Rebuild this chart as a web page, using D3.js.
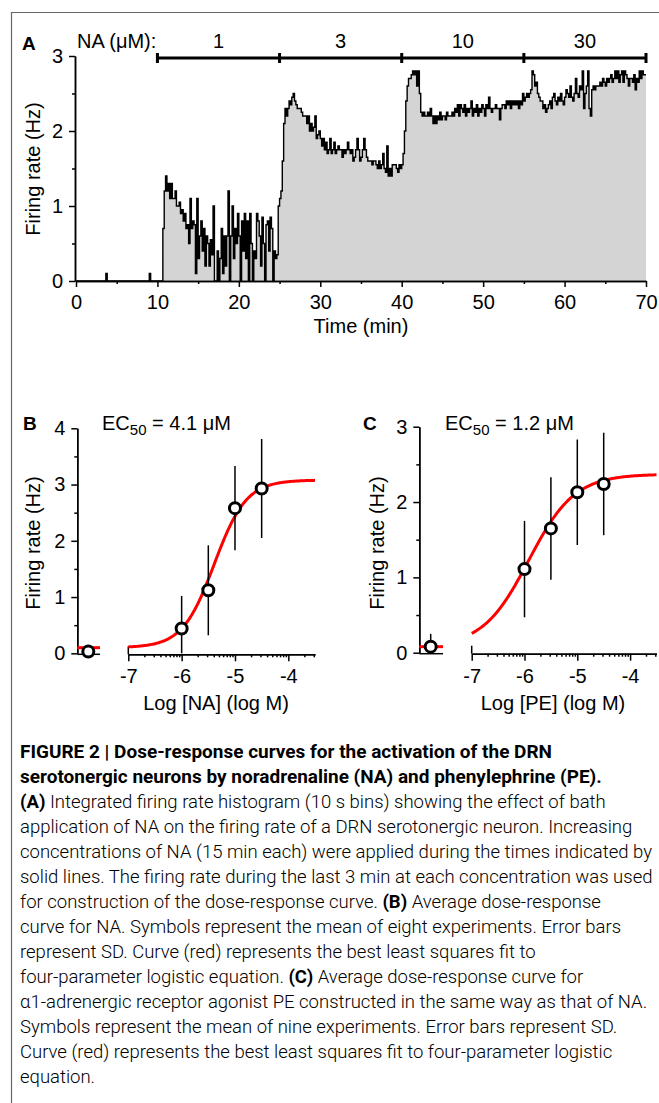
<!DOCTYPE html>
<html>
<head>
<meta charset="utf-8">
<script src="https://cdn.jsdelivr.net/npm/d3@7"></script>
<style>
  body { margin: 0; background: #fff; }
  svg text { font-family: Arial, "Liberation Sans", sans-serif; fill: #000; }
</style>
</head>
<body>
<svg id="fig" width="659" height="1103"></svg>
<script>
// ---- panel A: integrated firing rate, 10 s bins (one row = 1 min) ----
var binMin = 1 / 6;
var rateHz = [
  0,0,0,0,0,0,  0,0,0,0,0,0,  0,0,0,0,0,0,  0,0,0,0,0.1,0,
  0,0,0,0,0,0,  0,0,0,0,0,0,  0,0,0,0,0,0,  0,0,0,0,0,0,
  0,0,0,0,0,0,  0.1,0,0,0,0,0,
  0,0,0,0,0.7,1.2,
  1.4,1.2,1.3,1.1,1.3,1.1,
  1.1,1.2,1.0,1.0,1.05,0.9,
  0.95,0.8,0.9,0.7,0.75,0.5,
  1.1,0.7,0.8,0.75,0.1,1.1,
  0.3,0.6,0.8,0.4,0.7,0.2,
  0.6,0.5,0.2,0.55,0.35,1.0,
  0,0,0.4,0,0.3,0.7,
  0.1,0.6,0.2,0.6,1.2,0,
  0.6,1.0,0.3,0.7,0.5,0.9,
  0.6,0,0.8,0.4,0.9,0.3,
  0.8,0,0.9,0.5,0,0.4,
  0.3,0.9,0.8,0.6,0.2,0.85,
  0.5,0,0.75,0.8,0.4,0.85,
  0.7,0,0.4,0.3,0.35,1.0,
  1.1,1.2,1.6,2.1,2.3,2.2,
  2.3,2.4,2.35,2.45,2.5,2.4,
  2.35,2.3,2.3,2.3,2.25,2.2,
  2.2,2.2,2.1,2.2,2.0,2.1,
  2.0,2.05,2.2,1.9,1.95,2.0,
  1.9,1.8,1.9,1.75,1.85,1.7,
  1.75,1.9,1.7,1.75,1.85,1.7,
  1.75,1.8,1.75,1.75,1.65,1.75,
  1.7,1.75,1.85,1.75,1.7,1.75,
  1.6,1.65,1.75,1.9,1.75,1.6,
  1.65,1.75,1.9,1.75,1.65,1.6,
  1.6,1.6,1.55,1.6,1.6,1.55,
  1.5,1.6,1.5,1.55,1.7,1.5,
  1.45,1.8,1.4,1.5,1.4,1.55,
  1.55,1.55,1.5,1.45,1.55,1.5,
  1.55,1.7,2.0,2.4,2.6,2.7,
  2.7,2.75,2.8,2.75,2.8,2.6,
  2.8,2.5,2.25,2.2,2.25,2.2,
  2.2,2.25,2.2,2.3,2.2,2.1,
  2.2,2.1,2.2,2.15,2.25,2.15,
  2.2,2.2,2.15,2.25,2.2,2.2,
  2.2,2.25,2.2,2.3,2.25,2.35,
  2.2,2.35,2.3,2.25,2.35,2.2,
  2.3,2.25,2.3,2.4,2.2,2.3,
  2.25,2.35,2.2,2.3,2.25,2.35,
  2.3,2.2,2.35,2.3,2.45,2.3,
  2.25,2.3,2.3,2.35,2.3,2.3,
  2.15,2.3,2.35,2.35,2.3,2.4,
  2.35,2.4,2.3,2.4,2.35,2.4,
  2.35,2.4,2.3,2.4,2.35,2.5,
  2.4,2.45,2.5,2.45,2.5,2.55,
  2.8,2.75,2.6,2.65,2.5,2.45,
  2.4,2.4,2.3,2.35,2.25,2.3,
  2.35,2.4,2.3,2.45,2.5,2.4,
  2.35,2.45,2.4,2.5,2.4,2.35,
  2.45,2.55,2.5,2.45,2.6,2.45,
  2.4,2.5,2.7,2.5,2.45,2.6,
  2.55,2.8,2.3,2.5,2.6,2.8,
  2.3,2.2,2.55,2.6,2.55,2.6,
  2.6,2.6,2.65,2.6,2.7,2.65,
  2.6,2.7,2.65,2.7,2.75,2.65,
  2.7,2.8,2.7,2.8,2.65,2.75,
  2.8,2.65,2.8,2.75,2.7,2.6,
  2.7,2.7,2.65,2.75,2.55,2.7,
  2.65,2.8,2.7,2.8,2.75,2.75
];
var doseEdges = [10, 25, 40, 55, 70];
var doseLabels = ["1", "3", "10", "30"];
var timeTicks = [0, 10, 20, 30, 40, 50, 60, 70];

// ---- panels B and C: dose-response ----
var logConc = [-6, -5.5, -5, -4.5];
var naMean = [0.44, 1.12, 2.58, 2.93];
var naSD = [0.58, 0.80, 0.75, 0.88];
var naCtrl = [0.03, 0];
var peMean = [1.11, 1.65, 2.13, 2.24];
var peSD = [0.64, 0.68, 0.70, 0.68];
var peCtrl = [0.08, 0.17];
var naFit = [0.1, 3.08, -5.387, 1.45];   // bottom, top, logEC50, hill
var peFit = [0.08, 2.37, -5.921, 1.0];
var logTicks = [-7, -6, -5, -4];

var captionLines = [
  [["FIGURE 2 | Dose-response curves for the activation of the DRN", 1]],
  [["serotonergic neurons by noradrenaline (NA) and phenylephrine (PE).", 1]],
  [["(A)", 1], [" Integrated firing rate histogram (10 s bins) showing the effect of bath", 0]],
  [["application of NA on the firing rate of a DRN serotonergic neuron. Increasing", 0]],
  [["concentrations of NA (15 min each) were applied during the times indicated by", 0]],
  [["solid lines. The firing rate during the last 3 min at each concentration was used", 0]],
  [["for construction of the dose-response curve. ", 0], ["(B)", 1], [" Average dose-response", 0]],
  [["curve for NA. Symbols represent the mean of eight experiments. Error bars", 0]],
  [["represent SD. Curve (red) represents the best least squares fit to", 0]],
  [["four-parameter logistic equation. ", 0], ["(C)", 1], [" Average dose-response curve for", 0]],
  [["\u03b11-adrenergic receptor agonist PE constructed in the same way as that of NA.", 0]],
  [["Symbols represent the mean of nine experiments. Error bars represent SD.", 0]],
  [["Curve (red) represents the best least squares fit to four-parameter logistic", 0]],
  [["equation.", 0]]
];

var svg = d3.select("#fig");
var FONT = "20px";
var intFmt = d3.format("d");

// frame
svg.append("path")
  .attr("d", "M11.5,1103 V12.5 H659")
  .attr("fill", "none").attr("stroke", "#666").attr("stroke-width", 1.2);

function styleAxis(g) {
  g.attr("font-size", 20).attr("font-family", "Arial, Liberation Sans, sans-serif");
  g.selectAll("path, line").attr("stroke", "#000").attr("stroke-width", 1.5);
  g.selectAll("text").attr("fill", "#000");
}

// ================= Panel A =================
var xA = d3.scaleLinear().domain([0, 70]).range([76, 646]);
var yA = d3.scaleLinear().domain([0, 3]).range([281, 56]);

var bins = rateHz.map(function (v, i) { return { t: i * binMin, v: v }; });
bins.push({ t: 70, v: rateHz[rateHz.length - 1] });

svg.append("path").datum(bins)
  .attr("d", d3.area().curve(d3.curveStepAfter)
    .x(function (d) { return xA(d.t); })
    .y0(yA(0))
    .y1(function (d) { return yA(d.v); }))
  .attr("fill", "#d4d4d4");
svg.append("path").datum(bins)
  .attr("d", d3.line().curve(d3.curveStepAfter)
    .x(function (d) { return xA(d.t); })
    .y(function (d) { return yA(d.v); }))
  .attr("fill", "none").attr("stroke", "#000").attr("stroke-width", 1.4);

// axes
svg.append("g").attr("transform", "translate(0," + yA(0) + ")")
  .call(d3.axisBottom(xA).tickValues(d3.range(5, 70, 10)).tickSize(3).tickSizeOuter(0).tickFormat(""))
  .call(styleAxis);
svg.append("g").attr("transform", "translate(0," + yA(0) + ")")
  .call(d3.axisBottom(xA).tickValues(timeTicks).tickSize(6).tickPadding(8).tickSizeOuter(0).tickFormat(intFmt))
  .call(styleAxis);
svg.append("g").attr("transform", "translate(" + (xA(0) - 1) + ",0)")
  .call(d3.axisLeft(yA).tickValues([0.5, 1.5, 2.5]).tickSize(3).tickSizeOuter(0).tickFormat(""))
  .call(styleAxis);
svg.append("g").attr("transform", "translate(" + (xA(0) - 1) + ",0)")
  .call(d3.axisLeft(yA).tickValues([0, 1, 2, 3]).tickSize(6).tickPadding(6).tickSizeOuter(0).tickFormat(intFmt))
  .call(styleAxis);

svg.append("text").attr("x", 361).attr("y", 333).attr("text-anchor", "middle")
  .style("font-size", FONT).text("Time (min)");
svg.append("text").attr("transform", "translate(40,169) rotate(-90)").attr("text-anchor", "middle")
  .style("font-size", FONT).text("Firing rate (Hz)");
svg.append("text").attr("x", 22).attr("y", 50).style("font-size", "19px").style("font-weight", "bold").text("A");
svg.append("text").attr("x", 77).attr("y", 48).style("font-size", FONT).text("NA (\u03bcM):");

// dose bar
svg.append("line").attr("x1", xA(doseEdges[0])).attr("x2", xA(doseEdges[doseEdges.length - 1]))
  .attr("y1", 58).attr("y2", 58).attr("stroke", "#000").attr("stroke-width", 3);
svg.selectAll("rect.cap").data(doseEdges).enter().append("rect")
  .attr("x", function (d) { return xA(d) - 1.5; }).attr("y", 53).attr("width", 3).attr("height", 10)
  .attr("fill", "#000");
svg.selectAll("text.dose").data(doseLabels).enter().append("text")
  .attr("x", function (d, i) { return xA((doseEdges[i] + doseEdges[i + 1]) / 2); })
  .attr("y", 48).attr("text-anchor", "middle").style("font-size", FONT)
  .text(function (d) { return d; });

// ================= Panels B & C =================
function logistic(p) {
  return function (x) { return p[0] + (p[1] - p[0]) / (1 + Math.pow(10, (p[2] - x) * p[3])); };
}

function dosePanel(cfg) {
  var x = d3.scaleLinear().domain([-7, -3.5]).range(cfg.xr);
  var y = d3.scaleLinear().domain([0, cfg.ymax]).range(cfg.yr);
  var g = svg.append("g");
  var base = y(0) + 1;

  // y axis
  var minor = d3.range(0.5, cfg.ymax, 1);
  g.append("g").attr("transform", "translate(" + cfg.yAxisX + ",0)")
    .call(d3.axisLeft(y).tickValues(minor).tickSize(3).tickSizeOuter(0).tickFormat(""))
    .call(styleAxis);
  g.append("g").attr("transform", "translate(" + cfg.yAxisX + ",0)")
    .call(d3.axisLeft(y).tickValues(d3.range(0, cfg.ymax + 1)).tickSize(6).tickPadding(6).tickSizeOuter(0).tickFormat(intFmt))
    .call(styleAxis);
  // short control axis segment
  g.append("line").attr("x1", cfg.yAxisX).attr("x2", cfg.ctrlEnd).attr("y1", base).attr("y2", base)
    .attr("stroke", "#000").attr("stroke-width", 1.5);

  // log x axis
  var minorLog = [];
  [-7, -6, -5, -4].forEach(function (d) {
    for (var k = 2; k <= 9; k++) { var v = d + Math.log10(k); if (v <= -3.5) minorLog.push(v); }
  });
  g.append("g").attr("transform", "translate(0," + base + ")")
    .call(d3.axisBottom(x).tickValues(minorLog).tickSize(3).tickSizeOuter(0).tickFormat(""))
    .call(styleAxis);
  g.append("g").attr("transform", "translate(0," + base + ")")
    .call(d3.axisBottom(x).tickValues(logTicks).tickSize(7).tickPadding(8).tickSizeOuter(0)
      .tickFormat(function (d) { return d.toString(); }))
    .call(styleAxis);
  g.append("line").attr("x1", x(-7)).attr("x2", x(-7)).attr("y1", base - 8).attr("y2", base)
    .attr("stroke", "#000").attr("stroke-width", 1.5);

  // fitted curve
  var f = logistic(cfg.fit);
  var xs = d3.range(-7, -3.5 + 1e-9, 0.02);
  g.append("path").datum(xs)
    .attr("d", d3.line().x(function (d) { return x(d); }).y(function (d) { return y(f(d)); }))
    .attr("fill", "none").attr("stroke", "#ff0000").attr("stroke-width", 3);
  g.append("line").attr("x1", cfg.yAxisX).attr("x2", cfg.ctrlEnd)
    .attr("y1", y(cfg.fit[0])).attr("y2", y(cfg.fit[0]))
    .attr("stroke", "#ff0000").attr("stroke-width", 3);

  // error bars
  var pts = logConc.map(function (c, i) { return { x: x(c), m: cfg.mean[i], sd: cfg.sd[i] }; });
  pts.push({ x: cfg.ctrlX, m: cfg.ctrl[0], sd: cfg.ctrl[1] });
  g.selectAll("line.err").data(pts).enter().append("line")
    .attr("x1", function (d) { return d.x; }).attr("x2", function (d) { return d.x; })
    .attr("y1", function (d) { return y(Math.max(0, d.m - d.sd)); })
    .attr("y2", function (d) { return y(d.m + d.sd); })
    .attr("stroke", "#000").attr("stroke-width", 1.5);
  g.selectAll("circle").data(pts).enter().append("circle")
    .attr("cx", function (d) { return d.x; }).attr("cy", function (d) { return y(d.m); })
    .attr("r", 5.5).attr("fill", "#fff").attr("stroke", "#000").attr("stroke-width", 3);

  // labels
  g.append("text").attr("x", cfg.letterX).attr("y", 430).style("font-size", "19px")
    .style("font-weight", "bold").text(cfg.letter);
  var ec = g.append("text").attr("x", cfg.ecX).attr("y", 430).style("font-size", FONT);
  ec.append("tspan").text("EC");
  ec.append("tspan").attr("dy", 5).style("font-size", "15px").text("50");
  ec.append("tspan").attr("dy", -5).text(" = " + cfg.ec + " \u03bcM");
  g.append("text").attr("transform", "translate(" + cfg.ylabX + ",543) rotate(-90)")
    .attr("text-anchor", "middle").style("font-size", FONT).text("Firing rate (Hz)");
  g.append("text").attr("x", cfg.xlabX).attr("y", 710).attr("text-anchor", "middle")
    .style("font-size", FONT).text(cfg.xlab);
}

dosePanel({
  letter: "B", letterX: 23, ymax: 4, yr: [653.3, 428.3], xr: [128.3, 315],
  yAxisX: 77.3, ctrlEnd: 100, ctrlX: 88.3, mean: naMean, sd: naSD, ctrl: naCtrl,
  fit: naFit, ec: "4.1", ecX: 102, ylabX: 40, xlabX: 216, xlab: "Log [NA] (log M)"
});
dosePanel({
  letter: "C", letterX: 363, ymax: 3, yr: [652.7, 426.7], xr: [471.7, 656.5],
  yAxisX: 419.3, ctrlEnd: 443, ctrlX: 430.7, mean: peMean, sd: peSD, ctrl: peCtrl,
  fit: peFit, ec: "1.2", ecX: 445, ylabX: 384, xlabX: 553, xlab: "Log [PE] (log M)"
});

// ================= Caption =================
// draw at natural width, then condense every line by the same factor
var cap = svg.append("g");
var capNodes = captionLines.map(function (line, i) {
  var t = cap.append("text")
    .attr("x", 20).attr("y", 758 + i * 25)
    .style("font-family", "Roboto, Arial, sans-serif")
    .style("font-size", "19px");
  line.forEach(function (seg) {
    t.append("tspan").style("font-weight", seg[1] ? "bold" : "300").text(seg[0]);
  });
  return t;
});
var kBody = 632 / capNodes[4].node().getComputedTextLength();
var kBold = 532 / capNodes[0].node().getComputedTextLength();
capNodes.forEach(function (t, i) {
  var k = i < 2 ? kBold : kBody;
  t.attr("textLength", t.node().getComputedTextLength() * k)
   .attr("lengthAdjust", "spacingAndGlyphs");
});
</script>
</body>
</html>
